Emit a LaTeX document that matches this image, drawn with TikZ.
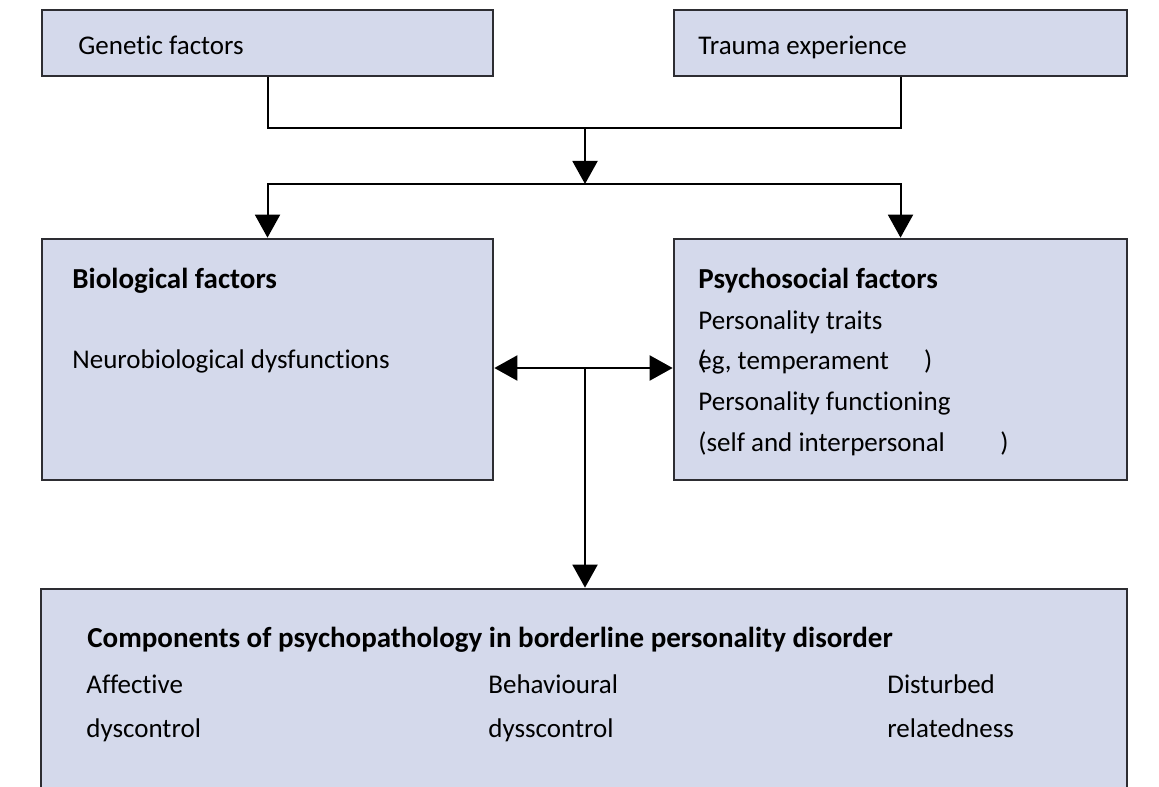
\documentclass[tikz,border=0pt]{standalone}
\usepackage{fontspec}
\setmainfont{Carlito}[Ligatures=NoCommon]
\usetikzlibrary{arrows.meta}
\definecolor{boxfill}{RGB}{212,217,235}
\definecolor{boxline}{RGB}{45,45,50}

\begin{document}
\begin{tikzpicture}[x=0.5pt,y=-0.5pt,
  box/.style={draw=boxline,line width=1.35pt,fill=boxfill,inner sep=0pt},
  lbl/.style={anchor=base west,inner sep=0pt,font=\fontsize{13.5}{16}\selectfont},
  hd/.style={lbl,font=\fontsize{14.5}{17}\selectfont\bfseries},
  arr/.style={line width=1pt,-{Triangle[length=11.5pt,width=12.5pt]}},
  line/.style={line width=1pt}]
\clip (0,0) rectangle (1159,786);
\node[box,minimum width=225.5pt,minimum height=33pt] (gen) at (267.5,43) {};
\node[box,minimum width=226.5pt,minimum height=33pt] (trauma) at (900.5,43) {};
\node[box,minimum width=225.5pt,minimum height=120.5pt] (bio) at (267.5,359.5) {};
\node[box,minimum width=226.5pt,minimum height=120.5pt] (psy) at (900.5,359.5) {};
\node[box,minimum width=543pt,minimum height=120pt] (comp) at (584,709) {};
\node[lbl] (genT) at (78,55) {Genetic factors};
\node[lbl] (traumaT) at (698,55) {Trauma experience};
\node[hd] (bioT) at (72,288) {Biological factors};
\node[lbl] (bioA) at (72,368) {Neurobiological dysfunctions};
\node[hd] (psyT) at (698,288) {Psychosocial factors};
\node[lbl] (psyA) at (698,329) {Personality traits};
\node[lbl] (psyB) at (698,369) {\rlap{(}eg, temperament\hspace{1.3em})};
\node[lbl] (psyC) at (698,410) {Personality functioning};
\node[lbl] (psyD) at (698,451) {(self and interpersonal\hspace{2.05em})};
\node[hd] (compT) at (87,647) {Components of psychopathology in borderline personality disorder};
\node[lbl] (affA) at (86,693) {Affective};
\node[lbl] (affB) at (86,737) {dyscontrol};
\node[lbl] (behA) at (488,693) {Behavioural};
\node[lbl] (behB) at (488,737) {dysscontrol};
\node[lbl] (disA) at (887,693) {Disturbed};
\node[lbl] (disB) at (887,737) {relatedness};
\coordinate (join) at (585,128);
\coordinate (split) at (585,184);
\coordinate (hub) at (585,368);
\draw[line] (gen.south) -- (gen.south |- join) -| (trauma.south);
\draw[arr] (join) -- (split);
\draw[arr] (split) -| (bio.north);
\draw[arr] (split) -| (psy.north);
\draw[arr] (hub) -- (bio.east |- hub);
\draw[arr] (hub) -- (psy.west |- hub);
\draw[arr] (hub) -- (comp.north -| hub);
\end{tikzpicture}
\end{document}
